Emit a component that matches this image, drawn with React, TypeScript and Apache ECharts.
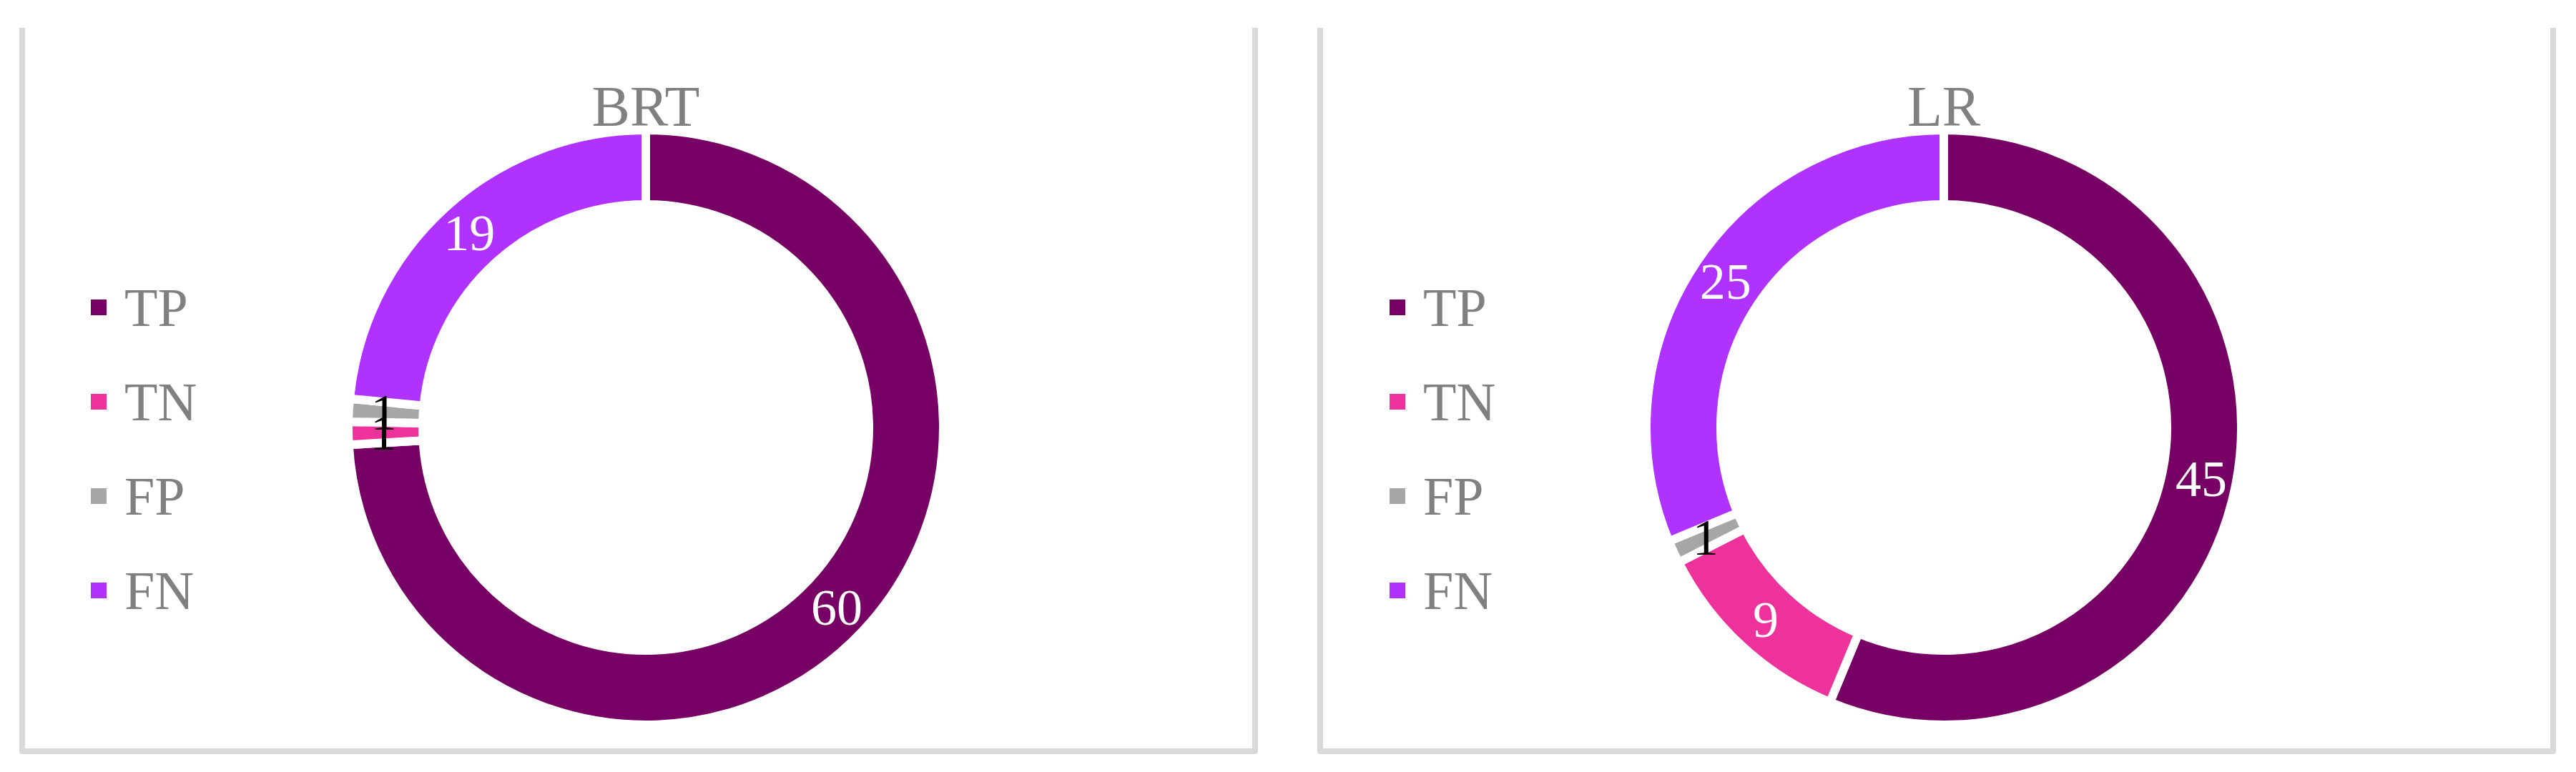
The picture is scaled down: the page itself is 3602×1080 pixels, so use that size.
import React, { useEffect, useRef } from "react";
import * as echarts from "echarts";

const categories = ["TP", "TN", "FP", "FN"];
const brtValues = [60, 1, 1, 19];
const lrValues = [45, 9, 1, 25];
const titles = ["BRT", "LR"];

const colors = ["#760064", "#EE329B", "#A6A6A6", "#B032FF"];
const FONT = "'Liberation Serif', 'Times New Roman', serif";

function buildData(values: number[], darkLabel: boolean[]) {
  return values.map((v, i) => ({
    name: categories[i],
    value: v,
    itemStyle: { color: colors[i] },
    label: { color: darkLabel[i] ? "#000000" : "#FFFFFF" },
  }));
}

export default function App() {
  const ref = useRef<HTMLDivElement>(null);
  useEffect(() => {
    if (!ref.current) return;
    const chart = echarts.init(ref.current, null, { renderer: "svg" });
    const centers = [903, 2718];
    const panelX = [
      [31, 1755],
      [1846, 3570],
    ];
    const legendLeft = [125, 1941];
    const seriesData = [
      buildData(brtValues, [false, true, true, false]),
      buildData(lrValues, [false, false, true, false]),
    ];
    const option: any = {
      animation: false,
      backgroundColor: "#FFFFFF",
      title: titles.map((t, i) => ({
        text: t,
        left: centers[i],
        top: 109,
        padding: 0,
        textAlign: "center",
        textStyle: {
          fontFamily: FONT,
          fontSize: 80,
          fontWeight: "normal",
          color: "#808080",
          lineHeight: 80,
        },
      })),
      legend: legendLeft.map((l) => ({
        orient: "vertical",
        left: l,
        top: 392,
        padding: 0,
        itemWidth: 24,
        itemHeight: 24,
        itemGap: 56,
        icon: "rect",
        selectedMode: false,
        data: categories,
        textStyle: {
          fontFamily: FONT,
          fontSize: 76,
          lineHeight: 76,
          color: "#808080",
          padding: [0, 0, 0, 19],
        },
      })),
      graphic: panelX.map((px) => ({
        type: "polyline",
        silent: true,
        shape: {
          points: [
            [px[0], 39],
            [px[0], 1051],
            [px[1], 1051],
            [px[1], 39],
          ],
        },
        style: { stroke: "#D9D9D9", lineWidth: 8, fill: null, lineJoin: "round" },
      })),
      series: seriesData.map((d, i) => ({
        type: "pie",
        center: [centers[i], 598],
        radius: [312, 416],
        startAngle: 90,
        clockwise: true,
        avoidLabelOverlap: false,
        labelLayout: { hideOverlap: false },
        emphasis: { disabled: true },
        itemStyle: { borderColor: "#FFFFFF", borderWidth: 12 },
        label: {
          show: true,
          position: "inside",
          formatter: "{c}",
          fontFamily: FONT,
          fontSize: 72,
          fontWeight: "normal",
        },
        labelLine: { show: false },
        data: d,
      })),
    };
    chart.setOption(option);
    return () => chart.dispose();
  }, []);
  return (
    <div
      ref={ref}
      style={{ position: "fixed", left: 0, top: 0, width: 3602, height: 1080 }}
    />
  );
}
